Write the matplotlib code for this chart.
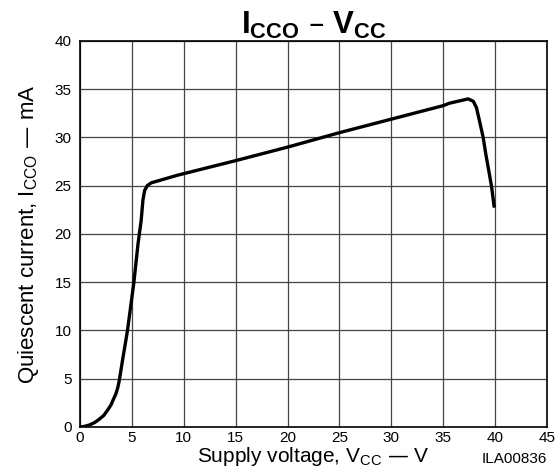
import matplotlib
matplotlib.use('Agg')
import matplotlib.pyplot as plt

# points
vcc = [0, 0.4, 0.9, 1.4, 1.86, 2.3, 2.67, 3.0, 3.2, 3.45, 3.63, 3.79, 4.11, 4.43,
       4.59, 5.2, 5.6, 5.9, 6.07, 6.23, 6.48, 6.87, 7.83, 9.44,
       15, 20, 25, 30, 35, 35.6, 36.6, 37.4, 37.9, 38.2, 38.5, 38.85, 39.1, 39.4,
       39.66, 39.9]
icco = [0, 0.05, 0.2, 0.45, 0.8, 1.2, 1.75, 2.3, 2.8, 3.4, 4.0, 4.8, 6.95, 9.0,
        10.05, 15, 19.0, 21.4, 23.5, 24.5, 25.0, 25.3, 25.6, 26.1,
        27.6, 29.0, 30.5, 31.9, 33.3, 33.55, 33.8, 34.0, 33.75, 33.1, 31.7, 30.0, 28.3, 26.5,
        24.9, 22.9]

xticks = list(range(0, 46, 5))
yticks = list(range(0, 41, 5))

plt.rcParams['font.family'] = ['Liberation Sans', 'DejaVu Sans']
plt.rcParams['mathtext.default'] = 'regular'

fig = plt.figure(figsize=(5.55, 4.69), dpi=100)
ax = fig.add_axes([0.144, 0.0896, 0.8416, 0.823])

ax.plot(vcc, icco, color='black', lw=2.4, solid_joinstyle='round')

ax.set_xlim(0, 45)
ax.set_ylim(0, 40)
ax.set_xticks(xticks)
ax.set_yticks(yticks)
ax.tick_params(length=0, labelsize=11)
ax.tick_params(axis='y', pad=6)
ax.tick_params(axis='x', pad=3)
ax.grid(True, color='#444444', lw=0.9)
ax.set_axisbelow(True)
for s in ax.spines.values():
    s.set_linewidth(1.2)

ax.set_xlabel(r'Supply voltage, V$_{CC}$ — V', fontsize=15, labelpad=0)
ax.set_ylabel(r'Quiescent current, I$_{CCO}$ — mA', fontsize=16, labelpad=10)
ax.set_title(r'I$_{CCO}$ – V$_{CC}$', fontsize=22.5, fontweight='bold', pad=0)

fig.text(0.9856, 0.006, 'ILA00836', ha='right', va='bottom', fontsize=11)

fig.savefig('out.png', dpi=100)
